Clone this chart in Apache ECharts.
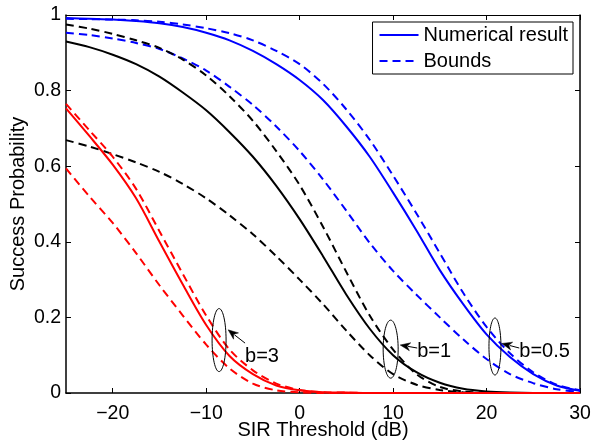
<!DOCTYPE html>
<html><head><meta charset="utf-8">
<script src="https://cdn.jsdelivr.net/npm/echarts@6/dist/echarts.min.js"></script>
<style>html,body{margin:0;padding:0;background:#fff}#c{width:592px;height:440px}</style>
</head><body><div id="c"></div>
<script>
// ---- data ----
const sirDb = [-25, -22.5, -20, -17.5, -15, -12.5, -10, -7.5, -5, -2.5, 0, 2.5, 5, 7.5, 10, 12.5, 15, 17.5, 20, 22.5, 25, 27.5, 30];
const xTickValues = [-20, -10, 0, 10, 20, 30];
const yTickValues = [0, 0.2, 0.4, 0.6, 0.8, 1];

// b = 0.5 (blue)
const numB05   = [0.992, 0.990, 0.988, 0.984, 0.978, 0.968, 0.953, 0.933, 0.905, 0.870, 0.828, 0.775, 0.705, 0.625, 0.530, 0.430, 0.325, 0.235, 0.155, 0.095, 0.050, 0.020, 0.006];
const upperB05 = [0.990, 0.989, 0.988, 0.986, 0.982, 0.975, 0.965, 0.952, 0.933, 0.905, 0.870, 0.818, 0.750, 0.670, 0.575, 0.475, 0.370, 0.265, 0.175, 0.105, 0.055, 0.022, 0.007];
const lowerB05 = [0.953, 0.947, 0.938, 0.926, 0.910, 0.885, 0.853, 0.810, 0.762, 0.705, 0.640, 0.565, 0.482, 0.397, 0.323, 0.260, 0.200, 0.142, 0.090, 0.050, 0.026, 0.010, 0.003];
// b = 1 (black)
const numB1    = [0.930, 0.915, 0.895, 0.870, 0.837, 0.795, 0.748, 0.690, 0.625, 0.548, 0.460, 0.362, 0.260, 0.170, 0.100, 0.055, 0.027, 0.011, 0.004, 0.001, 0.000, 0.000, 0.000];
const upperB1  = [0.975, 0.964, 0.950, 0.933, 0.913, 0.882, 0.840, 0.785, 0.720, 0.640, 0.550, 0.440, 0.320, 0.205, 0.115, 0.050, 0.016, 0.004, 0.001, 0.000, 0.000, 0.000, 0.000];
const lowerB1  = [0.669, 0.652, 0.632, 0.610, 0.585, 0.553, 0.515, 0.470, 0.420, 0.362, 0.300, 0.235, 0.165, 0.100, 0.050, 0.022, 0.008, 0.002, 0.000, 0.000, 0.000, 0.000, 0.000];
// b = 3 (red)
const numB3    = [0.753, 0.680, 0.604, 0.515, 0.400, 0.287, 0.180, 0.098, 0.050, 0.020, 0.007, 0.002, 0.001, 0.000, 0.000, 0.000, 0.000, 0.000, 0.000, 0.000, 0.000, 0.000, 0.000];
const upperB3  = [0.765, 0.695, 0.625, 0.540, 0.428, 0.315, 0.205, 0.115, 0.060, 0.025, 0.008, 0.002, 0.001, 0.000, 0.000, 0.000, 0.000, 0.000, 0.000, 0.000, 0.000, 0.000, 0.000];
const lowerB3  = [0.594, 0.520, 0.450, 0.370, 0.285, 0.205, 0.128, 0.065, 0.025, 0.007, 0.002, 0.000, 0.000, 0.000, 0.000, 0.000, 0.000, 0.000, 0.000, 0.000, 0.000, 0.000, 0.000];

const legendNames = ['Numerical result', 'Bounds'];
const annotationLabels = ['b=3', 'b=1', 'b=0.5'];

// ---- chart ----
const FONT = '"Liberation Sans", Arial, Helvetica, sans-serif';
const pairs = arr => sirDb.map((x, i) => [x, arr[i]]);
const minusFmt = v => String(v).replace('-', '\u2212');

function mk(name, arr, color, dashed) {
  return {
    name: name, type: 'line', data: pairs(arr), symbol: 'none', smooth: 0.3,
    lineStyle: { color: color, width: 2, type: dashed ? [8, 5] : 'solid' },
    itemStyle: { color: color }, z: 3, animation: false
  };
}

const series = [
  mk(legendNames[0], numB05, '#0000ff', false),
  mk(legendNames[1], upperB05, '#0000ff', true),
  mk(legendNames[1], lowerB05, '#0000ff', true),
  mk('N1', numB1, '#000000', false),
  mk('U1', upperB1, '#000000', true),
  mk('L1', lowerB1, '#000000', true),
  mk('N3', numB3, '#ff0000', false),
  mk('U3', upperB3, '#ff0000', true),
  mk('L3', lowerB3, '#ff0000', true)
];

const axisLineStyle = { color: '#000', width: 1.5 };
const chart = echarts.init(document.getElementById('c'), null, { renderer: 'canvas' });
chart.setOption({
  animation: false,
  backgroundColor: '#fff',
  grid: { left: 66, right: 12, top: 15, bottom: 47, containLabel: false, outerBoundsMode: 'none' },
  legend: {
    data: legendNames, orient: 'vertical', right: 19, top: 22,
    itemWidth: 39, itemHeight: 14, itemGap: 6,
    padding: [3, 5, 3, 6], borderColor: '#000', borderWidth: 1, backgroundColor: '#fff',
    selectedMode: false, align: 'left',
    itemStyle: { color: 'rgba(0,0,0,0)', borderWidth: 0, opacity: 0 },
    textStyle: { fontFamily: FONT, fontSize: 20, color: '#000' }
  },
  xAxis: [{
    type: 'value', min: -25, max: 30, position: 'bottom',
    name: 'SIR Threshold (dB)', nameLocation: 'middle', nameGap: 27, nameMoveOverlap: false,
    nameTextStyle: { fontFamily: FONT, fontSize: 20, color: '#000' },
    axisLine: { show: true, onZero: false, lineStyle: axisLineStyle },
    axisTick: { show: true, inside: true, length: 5, customValues: xTickValues, lineStyle: { color: '#000' } },
    axisLabel: { customValues: xTickValues, formatter: minusFmt, margin: 11, fontFamily: FONT, fontSize: 19.5, color: '#000' },
    splitLine: { show: false }
  }, {
    type: 'value', min: -25, max: 30, position: 'top',
    axisLine: { show: true, onZero: false, lineStyle: { color: '#000', width: 1 } },
    axisTick: { show: true, inside: true, length: 5, customValues: xTickValues, lineStyle: { color: '#000' } },
    axisLabel: { show: false }, splitLine: { show: false }
  }],
  yAxis: [{
    type: 'value', min: 0, max: 1, interval: 0.2, position: 'left',
    name: 'Success Probability', nameLocation: 'middle', nameGap: 38, nameRotate: 90, nameMoveOverlap: false,
    nameTextStyle: { fontFamily: FONT, fontSize: 20, color: '#000' },
    axisLine: { show: true, onZero: false, lineStyle: axisLineStyle },
    axisTick: { show: true, inside: true, length: 5, customValues: yTickValues, lineStyle: { color: '#000' } },
    axisLabel: { customValues: yTickValues, margin: 5, fontFamily: FONT, fontSize: 19.5, color: '#000' },
    splitLine: { show: false }
  }, {
    type: 'value', min: 0, max: 1, interval: 0.2, position: 'right',
    axisLine: { show: true, onZero: false, lineStyle: axisLineStyle },
    axisTick: { show: true, inside: true, length: 5, customValues: yTickValues, lineStyle: { color: '#000' } },
    axisLabel: { show: false }, splitLine: { show: false }
  }],
  series: series
});

// ---- annotations (ellipse + arrow + label), anchored in data coordinates ----
const annots = [
  { text: annotationLabels[0], c: [-8.62, 0.14], rx: 7, ry: 31.5, head: [-7.65, 0.167], tail: [-5.84, 0.132], t: [-5.84, 0.096] },
  { text: annotationLabels[1], c: [9.74, 0.116], rx: 7.5, ry: 29, head: [10.76, 0.127], tail: [12.58, 0.119], t: [12.58, 0.109] },
  { text: annotationLabels[2], c: [20.9, 0.123], rx: 6, ry: 28.5, head: [21.65, 0.131], tail: [23.5, 0.119], t: [23.5, 0.11] }
];
const g = [];
const px = p => chart.convertToPixel({ gridIndex: 0 }, p);
annots.forEach(a => {
  const c = px(a.c), h = px(a.head), tl = px(a.tail), tp = px(a.t);
  g.push({ type: 'ellipse', shape: { cx: c[0], cy: c[1], rx: a.rx, ry: a.ry },
    style: { fill: null, stroke: '#000', lineWidth: 1 }, z: 10 });
  const dx = h[0] - tl[0], dy = h[1] - tl[1], L = Math.hypot(dx, dy);
  const ux = dx / L, uy = dy / L, hl = 10, hw = 4;
  const bx = h[0] - ux * hl, by = h[1] - uy * hl;
  g.push({ type: 'line', shape: { x1: tl[0], y1: tl[1], x2: bx + ux * 2, y2: by + uy * 2 },
    style: { stroke: '#000', lineWidth: 1 }, z: 10 });
  g.push({ type: 'polygon', shape: { points: [h, [bx - uy * hw, by + ux * hw], [h[0] - ux * hl * 0.7, h[1] - uy * hl * 0.7], [bx + uy * hw, by - ux * hw]] },
    style: { fill: '#000', stroke: '#000', lineWidth: 0.5 }, z: 10 });
  g.push({ type: 'text', x: tp[0], y: tp[1],
    style: { text: a.text, fill: '#000', font: '20px ' + FONT, textAlign: 'left', textVerticalAlign: 'middle' }, z: 10 });
});
chart.setOption({ graphic: g });
</script></body></html>
